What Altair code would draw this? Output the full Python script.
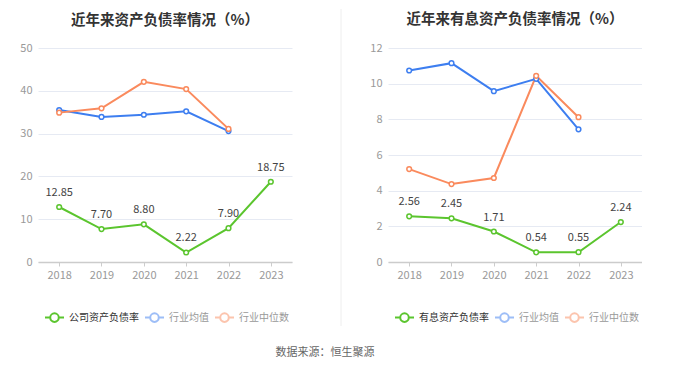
import altair as alt
import pandas as pd

years = ["2018", "2019", "2020", "2021", "2022", "2023"]
ind_years = ["2018", "2019", "2020", "2021", "2022"]

left_company = [12.85, 7.70, 8.80, 2.22, 7.90, 18.75]
left_avg = [35.5, 33.9, 34.4, 35.2, 30.6]
left_median = [34.9, 35.9, 42.1, 40.4, 31.1]

right_company = [2.56, 2.45, 1.71, 0.54, 0.55, 2.24]
right_avg = [10.74, 11.15, 9.58, 10.27, 7.44]
right_median = [5.21, 4.37, 4.71, 10.44, 8.12]

left_title = "近年来资产负债率情况（%）"
right_title = "近年来有息资产负债率情况（%）"
left_names = ["公司资产负债率", "行业均值", "行业中位数"]
right_names = ["有息资产负债率", "行业均值", "行业中位数"]
left_ticks = [0, 10, 20, 30, 40, 50]
right_ticks = [0, 2, 4, 6, 8, 10, 12]
source_text = "数据来源：恒生聚源"
colors = ["#5bc52e", "#3d7ef0", "#fa8a5d"]

FONT = "Noto Sans CJK SC"
SYMBOL = "M-1,0H-0.45M0.45,0H1M-0.45,0A0.45,0.45 0 1,0 0.45,0A0.45,0.45 0 1,0 -0.45,0Z"


def panel(names, company, avg, median, ticks, title, divider):
    rows = []
    for yr, v in zip(years, company):
        rows.append({"year": yr, "value": v, "series": names[0]})
    for yr, v in zip(ind_years, avg):
        rows.append({"year": yr, "value": v, "series": names[1]})
    for yr, v in zip(ind_years, median):
        rows.append({"year": yr, "value": v, "series": names[2]})
    df = pd.DataFrame(rows)
    main = names[0]

    x = alt.X("year:O", sort=years, axis=alt.Axis(
        title=None, labelAngle=0, domainColor="#cccccc", domainWidth=1.5,
        tickColor="#cccccc", tickSize=4, labelColor="#999999", labelFontSize=11,
        labelPadding=3, grid=False, labelFont=FONT))
    y = alt.Y("value:Q", scale=alt.Scale(domain=[0, ticks[-1]], nice=False), axis=alt.Axis(
        title=None, values=ticks, domain=False, ticks=False, labelColor="#999999",
        labelFontSize=11, labelPadding=6, gridColor="#e6eaf3", minExtent=30, labelFont=FONT))
    color = alt.Color("series:N", scale=alt.Scale(domain=names, range=colors), legend=alt.Legend(
        orient="none", legendX=6, legendY=259, direction="horizontal", title=None,
        symbolType=SYMBOL, symbolSize=361, symbolStrokeWidth=2, symbolFillColor="white",
        labelFontSize=10, labelFont=FONT,
        labelColor={"expr": f"datum.label == '{main}' ? '#333333' : '#999999'"},
        symbolOpacity={"expr": f"datum.label == '{main}' ? 1 : 0.5"},
        columnPadding=2, labelOffset=4))

    base = alt.Chart(df)
    line = base.mark_line(strokeWidth=2).encode(x=x, y=y, color=color)
    pts = base.mark_point(filled=False, fill="white", fillOpacity=1, size=22, strokeWidth=1.5,
                          opacity=1).encode(x=x, y=y, color=color)
    labels = base.transform_filter(alt.datum.series == main).mark_text(
        dy=-14, fontSize=11, color="#444444", font=FONT).encode(
        x=x, y=y, text=alt.Text("value:Q", format=".2f"))
    rule = alt.Chart(pd.DataFrame({"d": [0]})).mark_rule(
        color="#eeeeee", strokeWidth=1, strokeOpacity=1 if divider else 0).encode(
        x=alt.value(-47 if divider else 0), y=alt.value(-39), y2=alt.value(278 if divider else -39))
    layers = [rule, line, pts, labels]
    return alt.layer(*layers).properties(
        width=254, height=214,
        title=alt.TitleParams(title, fontSize=14.5, fontWeight="bold", color="#333333",
                              anchor="middle", frame="group", offset=-19, font=FONT))


left = panel(left_names, left_company, left_avg, left_median, left_ticks, left_title, False)
right = panel(right_names, right_company, right_avg, right_median, right_ticks, right_title, True)

chart = alt.hconcat(
    left, right, spacing=96, bounds="flush",
    padding={"left": 0, "top": 0, "right": 0, "bottom": 0},
    title=alt.TitleParams(source_text, orient="bottom", anchor="middle", fontSize=11,
                          fontWeight="normal", color="#666666", offset=20, font=FONT),
).resolve_scale(color="independent", x="independent", y="independent").configure(
    font=FONT).configure_view(strokeWidth=0)

chart.save("out.html", embed_options={"renderer": "svg", "actions": False})
